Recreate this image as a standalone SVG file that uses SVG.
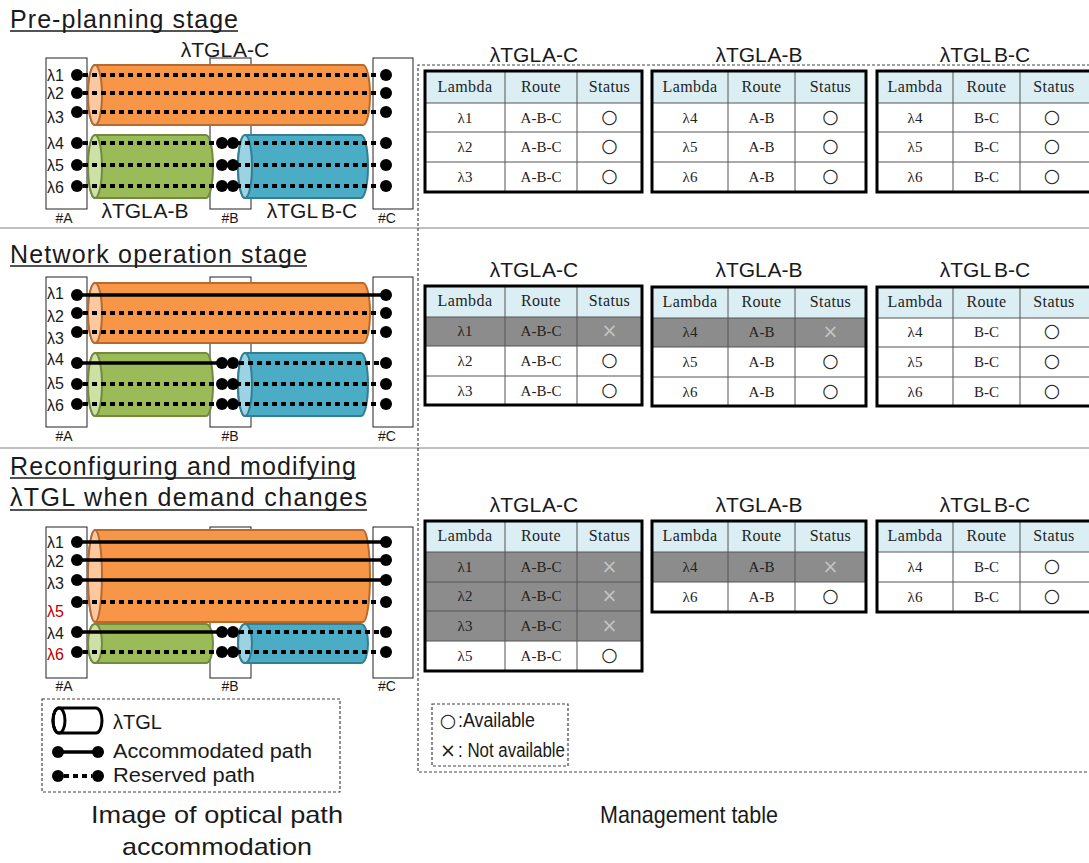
<svg xmlns="http://www.w3.org/2000/svg" width="1089" height="863" viewBox="0 0 1089 863">
<style>
.t{font-family:"Liberation Sans",Arial,sans-serif;fill:#1a1a1a}
.ttl{font-size:25px}
.big{font-size:21px}
.cap{font-size:24px;text-anchor:middle}
.lam{font-size:16px}
.red{fill:#C00000}
.nl{font-size:14px;text-anchor:middle}
.box{fill:#fff;stroke:#222;stroke-width:1}
.dot{fill:#000}
.res{stroke:#000;stroke-width:4;stroke-dasharray:5 4;fill:none}
.acc{stroke:#000;stroke-width:3.5;fill:none}
.or{fill:#F79646;stroke:#B8692E;stroke-width:2}
.orf{fill:#FBC8A0;stroke:#B8692E;stroke-width:2}
.gn{fill:#9BBB59;stroke:#728A3E;stroke-width:2}
.gnf{fill:#CDE0A6;stroke:#728A3E;stroke-width:2}
.bl{fill:#4BACC6;stroke:#327F93;stroke-width:2}
.blf{fill:#9BD3E2;stroke:#327F93;stroke-width:2}
.tb{font-family:"Liberation Serif","Times New Roman",serif;font-size:15px;text-anchor:middle;fill:#222}
.th{font-size:16px;letter-spacing:0.4px}
.sym{font-family:"DejaVu Sans",sans-serif;font-size:19px;text-anchor:middle;fill:#222}
.x{fill:#c4c4c4}
.hd{fill:#DBEEF4}
.gr{fill:#8C8C8C}
.wh{fill:#fff}
.grid{stroke:#555;stroke-width:1;fill:none}
.frame{fill:none;stroke:#000;stroke-width:3}
.sep{stroke:#808080;stroke-width:1.2}
.dash{fill:none;stroke:#444;stroke-width:1.2;stroke-dasharray:3 2}
.ul{stroke:#1a1a1a;stroke-width:1.3}
</style>

<!-- section separators and the dashed frame round the tables -->
<g id="frames">
<line class="sep" x1="0" y1="228" x2="1089" y2="228"/>
<line class="sep" x1="0" y1="448" x2="1089" y2="448"/>
<path class="dash" d="M1095,65 H418 V772 H1095"/>
</g>

<!-- ===== Stage 1 ===== -->
<g id="stage1-title">
<text class="t ttl" x="10" y="28" textLength="228" lengthAdjust="spacing">Pre-planning stage</text>
<line class="ul" x1="10" y1="31" x2="238" y2="31"/>
<text class="t big" x="225" y="57" text-anchor="middle" word-spacing="-3">λTGL A-C</text>
<text class="t big" x="145" y="218" text-anchor="middle" word-spacing="-3">λTGL A-B</text>
<text class="t big" x="312" y="218" text-anchor="middle" word-spacing="-2">λTGL B-C</text>
</g>
<g id="s1-node-A"><rect class="box" x="46" y="58" width="41" height="151"/><text class="t nl" x="64" y="223">#A</text></g>
<g id="s1-node-B"><rect class="box" x="210" y="58" width="41" height="151"/><text class="t nl" x="230" y="223">#B</text></g>
<g id="s1-node-C"><rect class="box" x="373" y="58" width="40" height="151"/><text class="t nl" x="387" y="223">#C</text></g>
<g id="s1-tgl-AC"><path class="or" d="M95,65 H363 A7 30 0 0 1 363,125 H95 A7 30 0 0 1 95,65 Z"/><ellipse class="orf" cx="95" cy="95" rx="7" ry="30"/></g>
<g id="s1-tgl-AB"><path class="gn" d="M95,135 H206 A7 31.5 0 0 1 206,198 H95 A7 31.5 0 0 1 95,135 Z"/><ellipse class="gnf" cx="95" cy="166.5" rx="7" ry="31.5"/></g>
<g id="s1-tgl-BC"><path class="bl" d="M245,135 H361 A7 31.5 0 0 1 361,198 H245 A7 31.5 0 0 1 245,135 Z"/><ellipse class="blf" cx="245" cy="166.5" rx="7" ry="31.5"/></g>
<g id="s1-lambdas" class="t lam">
<text x="47" y="81">λ1</text><text x="47" y="99">λ2</text><text x="47" y="123">λ3</text>
<text x="47" y="149">λ4</text><text x="47" y="171">λ5</text><text x="47" y="193">λ6</text>
</g>
<g id="s1-connectors">
<line class="res" x1="83" y1="75" x2="380" y2="75"/>
<line class="res" x1="83" y1="93" x2="380" y2="93"/>
<line class="res" x1="83" y1="112" x2="380" y2="112"/>
<line class="res" x1="83" y1="143" x2="380" y2="143"/>
<line class="res" x1="83" y1="165" x2="380" y2="165"/>
<line class="res" x1="83" y1="186" x2="380" y2="186"/>
<g class="dot">
<circle cx="77" cy="75" r="6"/><circle cx="77" cy="93" r="6"/><circle cx="77" cy="112" r="6"/>
<circle cx="77" cy="143" r="6"/><circle cx="77" cy="165" r="6"/><circle cx="77" cy="186" r="6"/>
<circle cx="386" cy="75" r="6"/><circle cx="386" cy="93" r="6"/><circle cx="386" cy="112" r="6"/>
<circle cx="386" cy="143" r="6"/><circle cx="386" cy="165" r="6"/><circle cx="386" cy="186" r="6"/>
<circle cx="222" cy="143" r="6"/><circle cx="233" cy="143" r="6"/>
<circle cx="222" cy="165" r="6"/><circle cx="233" cy="165" r="6"/>
<circle cx="222" cy="186" r="6"/><circle cx="233" cy="186" r="6"/>
</g>
</g>

<!-- stage 1 tables -->
<g id="s1-table-AC">
<text class="t big" x="534" y="62" text-anchor="middle" word-spacing="-3">λTGL A-C</text>
<rect class="hd" x="425" y="71" width="217" height="32"/><rect class="wh" x="425" y="103" width="217" height="89"/>
<path class="grid" d="M505,71 V192 M577,71 V192 M425,103 H642 M425,132 H642 M425,162 H642"/>
<rect class="frame" x="425" y="71" width="217" height="121"/>
<g class="tb th"><text x="465" y="92">Lambda</text><text x="541" y="92">Route</text><text x="609.5" y="92">Status</text></g>
<g class="tb"><text x="465" y="123">λ1</text><text x="541" y="123">A-B-C</text><text x="465" y="152">λ2</text><text x="541" y="152">A-B-C</text><text x="465" y="182">λ3</text><text x="541" y="182">A-B-C</text></g>
<g class="sym"><text x="609.5" y="123">○</text><text x="609.5" y="152">○</text><text x="609.5" y="182">○</text></g>
</g>
<g id="s1-table-AB">
<text class="t big" x="759" y="62" text-anchor="middle" word-spacing="-3">λTGL A-B</text>
<rect class="hd" x="652" y="71" width="214" height="32"/><rect class="wh" x="652" y="103" width="214" height="89"/>
<path class="grid" d="M728,71 V192 M795,71 V192 M652,103 H866 M652,132 H866 M652,162 H866"/>
<rect class="frame" x="652" y="71" width="214" height="121"/>
<g class="tb th"><text x="690" y="92">Lambda</text><text x="761.5" y="92">Route</text><text x="830.5" y="92">Status</text></g>
<g class="tb"><text x="690" y="123">λ4</text><text x="761.5" y="123">A-B</text><text x="690" y="152">λ5</text><text x="761.5" y="152">A-B</text><text x="690" y="182">λ6</text><text x="761.5" y="182">A-B</text></g>
<g class="sym"><text x="830.5" y="123">○</text><text x="830.5" y="152">○</text><text x="830.5" y="182">○</text></g>
</g>
<g id="s1-table-BC">
<text class="t big" x="985" y="62" text-anchor="middle" word-spacing="-2">λTGL B-C</text>
<rect class="hd" x="877" y="71" width="218" height="32"/><rect class="wh" x="877" y="103" width="218" height="89"/>
<path class="grid" d="M953,71 V192 M1020,71 V192 M877,103 H1095 M877,132 H1095 M877,162 H1095"/>
<rect class="frame" x="877" y="71" width="218" height="121"/>
<g class="tb th"><text x="915" y="92">Lambda</text><text x="986.5" y="92">Route</text><text x="1054" y="92">Status</text></g>
<g class="tb"><text x="915" y="123">λ4</text><text x="986.5" y="123">B-C</text><text x="915" y="152">λ5</text><text x="986.5" y="152">B-C</text><text x="915" y="182">λ6</text><text x="986.5" y="182">B-C</text></g>
<g class="sym"><text x="1052" y="123">○</text><text x="1052" y="152">○</text><text x="1052" y="182">○</text></g>
</g>

<!-- ===== Stage 2 ===== -->
<g id="stage2-title">
<text class="t ttl" x="10" y="263" textLength="297" lengthAdjust="spacing">Network operation stage</text>
<line class="ul" x1="10" y1="266" x2="307" y2="266"/>
</g>
<g id="s2-node-A"><rect class="box" x="46" y="277" width="41" height="150"/><text class="t nl" x="64" y="441">#A</text></g>
<g id="s2-node-B"><rect class="box" x="210" y="277" width="41" height="150"/><text class="t nl" x="230" y="441">#B</text></g>
<g id="s2-node-C"><rect class="box" x="373" y="277" width="40" height="150"/><text class="t nl" x="387" y="441">#C</text></g>
<g id="s2-tgl-AC"><path class="or" d="M95,283 H363 A7 30 0 0 1 363,343 H95 A7 30 0 0 1 95,283 Z"/><ellipse class="orf" cx="95" cy="313" rx="7" ry="30"/></g>
<g id="s2-tgl-AB"><path class="gn" d="M95,353 H206 A7 31.5 0 0 1 206,416 H95 A7 31.5 0 0 1 95,353 Z"/><ellipse class="gnf" cx="95" cy="384.5" rx="7" ry="31.5"/></g>
<g id="s2-tgl-BC"><path class="bl" d="M245,353 H361 A7 31.5 0 0 1 361,416 H245 A7 31.5 0 0 1 245,353 Z"/><ellipse class="blf" cx="245" cy="384.5" rx="7" ry="31.5"/></g>
<g id="s2-lambdas" class="t lam">
<text x="47" y="299">λ1</text><text x="47" y="322">λ2</text><text x="47" y="344">λ3</text>
<text x="47" y="365">λ4</text><text x="47" y="389">λ5</text><text x="47" y="411">λ6</text>
</g>
<g id="s2-connectors">
<line class="acc" x1="77" y1="295" x2="386" y2="295"/>
<line class="res" x1="83" y1="313" x2="380" y2="313"/>
<line class="res" x1="83" y1="332" x2="380" y2="332"/>
<line class="acc" x1="77" y1="363" x2="222" y2="363"/>
<line class="res" x1="239" y1="363" x2="380" y2="363"/>
<line class="res" x1="83" y1="384" x2="380" y2="384"/>
<line class="res" x1="83" y1="404" x2="380" y2="404"/>
<g class="dot">
<circle cx="77" cy="295" r="6"/><circle cx="77" cy="313" r="6"/><circle cx="77" cy="332" r="6"/>
<circle cx="77" cy="363" r="6"/><circle cx="77" cy="384" r="6"/><circle cx="77" cy="404" r="6"/>
<circle cx="386" cy="295" r="6"/><circle cx="386" cy="313" r="6"/><circle cx="386" cy="332" r="6"/>
<circle cx="386" cy="363" r="6"/><circle cx="386" cy="384" r="6"/><circle cx="386" cy="404" r="6"/>
<circle cx="222" cy="363" r="6"/><circle cx="233" cy="363" r="6"/>
<circle cx="222" cy="384" r="6"/><circle cx="233" cy="384" r="6"/>
<circle cx="222" cy="404" r="6"/><circle cx="233" cy="404" r="6"/>
</g>
</g>

<g id="s2-table-AC">
<text class="t big" x="534" y="277" text-anchor="middle" word-spacing="-3">λTGL A-C</text>
<rect class="hd" x="425" y="286" width="217" height="31"/><rect class="gr" x="425" y="317" width="217" height="29"/><rect class="wh" x="425" y="346" width="217" height="59"/>
<path class="grid" d="M505,286 V405 M577,286 V405 M425,317 H642 M425,346 H642 M425,376 H642"/>
<rect class="frame" x="425" y="286" width="217" height="119"/>
<g class="tb th"><text x="465" y="306">Lambda</text><text x="541" y="306">Route</text><text x="609.5" y="306">Status</text></g>
<g class="tb"><text x="465" y="336">λ1</text><text x="541" y="336">A-B-C</text><text x="465" y="366">λ2</text><text x="541" y="366">A-B-C</text><text x="465" y="396">λ3</text><text x="541" y="396">A-B-C</text></g>
<g class="sym"><text class="x" x="609.5" y="337">×</text><text x="609.5" y="366">○</text><text x="609.5" y="396">○</text></g>
</g>
<g id="s2-table-AB">
<text class="t big" x="759" y="277" text-anchor="middle" word-spacing="-3">λTGL A-B</text>
<rect class="hd" x="652" y="287" width="214" height="31"/><rect class="gr" x="652" y="318" width="214" height="29"/><rect class="wh" x="652" y="347" width="214" height="59"/>
<path class="grid" d="M728,287 V406 M795,287 V406 M652,318 H866 M652,347 H866 M652,377 H866"/>
<rect class="frame" x="652" y="287" width="214" height="119"/>
<g class="tb th"><text x="690" y="307">Lambda</text><text x="761.5" y="307">Route</text><text x="830.5" y="307">Status</text></g>
<g class="tb"><text x="690" y="337">λ4</text><text x="761.5" y="337">A-B</text><text x="690" y="367">λ5</text><text x="761.5" y="367">A-B</text><text x="690" y="397">λ6</text><text x="761.5" y="397">A-B</text></g>
<g class="sym"><text class="x" x="830.5" y="338">×</text><text x="830.5" y="367">○</text><text x="830.5" y="397">○</text></g>
</g>
<g id="s2-table-BC">
<text class="t big" x="985" y="277" text-anchor="middle" word-spacing="-2">λTGL B-C</text>
<rect class="hd" x="877" y="287" width="218" height="31"/><rect class="wh" x="877" y="318" width="218" height="88"/>
<path class="grid" d="M953,287 V406 M1020,287 V406 M877,318 H1095 M877,347 H1095 M877,377 H1095"/>
<rect class="frame" x="877" y="287" width="218" height="119"/>
<g class="tb th"><text x="915" y="307">Lambda</text><text x="986.5" y="307">Route</text><text x="1054" y="307">Status</text></g>
<g class="tb"><text x="915" y="337">λ4</text><text x="986.5" y="337">B-C</text><text x="915" y="367">λ5</text><text x="986.5" y="367">B-C</text><text x="915" y="397">λ6</text><text x="986.5" y="397">B-C</text></g>
<g class="sym"><text x="1052" y="337">○</text><text x="1052" y="367">○</text><text x="1052" y="397">○</text></g>
</g>

<!-- ===== Stage 3 ===== -->
<g id="stage3-title">
<text class="t ttl" x="10" y="475" textLength="346" lengthAdjust="spacing">Reconfiguring and modifying</text>
<line class="ul" x1="10" y1="478" x2="356" y2="478"/>
<text class="t ttl" x="10" y="506" textLength="357" lengthAdjust="spacing">λTGL when demand changes</text>
<line class="ul" x1="10" y1="510" x2="367" y2="510"/>
</g>
<g id="s3-node-A"><rect class="box" x="46" y="527" width="41" height="151"/><text class="t nl" x="64" y="691">#A</text></g>
<g id="s3-node-B"><rect class="box" x="210" y="527" width="41" height="151"/><text class="t nl" x="230" y="691">#B</text></g>
<g id="s3-node-C"><rect class="box" x="373" y="527" width="40" height="151"/><text class="t nl" x="387" y="691">#C</text></g>
<g id="s3-tgl-AC"><path class="or" d="M95,530 H363 A7 46 0 0 1 363,622 H95 A7 46 0 0 1 95,530 Z"/><ellipse class="orf" cx="95" cy="576" rx="7" ry="46"/></g>
<g id="s3-tgl-AB"><path class="gn" d="M95,624 H206 A7 19.5 0 0 1 206,663 H95 A7 19.5 0 0 1 95,624 Z"/><ellipse class="gnf" cx="95" cy="643.5" rx="7" ry="19.5"/></g>
<g id="s3-tgl-BC"><path class="bl" d="M245,624 H361 A7 19.5 0 0 1 361,663 H245 A7 19.5 0 0 1 245,624 Z"/><ellipse class="blf" cx="245" cy="643.5" rx="7" ry="19.5"/></g>
<g id="s3-lambdas" class="t lam">
<text x="47" y="548">λ1</text><text x="47" y="567">λ2</text><text x="47" y="589">λ3</text>
<text x="47" y="617" class="red">λ5</text><text x="47" y="639">λ4</text><text x="47" y="660" class="red">λ6</text>
</g>
<g id="s3-connectors">
<line class="acc" x1="77" y1="542" x2="386" y2="542"/>
<line class="acc" x1="77" y1="560" x2="386" y2="560"/>
<line class="acc" x1="77" y1="580" x2="386" y2="580"/>
<line class="res" x1="83" y1="602" x2="380" y2="602"/>
<line class="acc" x1="77" y1="632" x2="222" y2="632"/>
<line class="res" x1="239" y1="632" x2="380" y2="632"/>
<line class="res" x1="83" y1="652" x2="380" y2="652"/>
<g class="dot">
<circle cx="77" cy="542" r="6"/><circle cx="77" cy="560" r="6"/><circle cx="77" cy="580" r="6"/>
<circle cx="77" cy="602" r="6"/><circle cx="77" cy="632" r="6"/><circle cx="77" cy="652" r="6"/>
<circle cx="386" cy="542" r="6"/><circle cx="386" cy="560" r="6"/><circle cx="386" cy="580" r="6"/>
<circle cx="386" cy="602" r="6"/><circle cx="386" cy="632" r="6"/><circle cx="386" cy="652" r="6"/>
<circle cx="222" cy="632" r="6"/><circle cx="233" cy="632" r="6"/>
<circle cx="222" cy="652" r="6"/><circle cx="233" cy="652" r="6"/>
</g>
</g>

<g id="s3-table-AC">
<text class="t big" x="534" y="512" text-anchor="middle" word-spacing="-3">λTGL A-C</text>
<rect class="hd" x="425" y="521" width="217" height="31"/><rect class="gr" x="425" y="552" width="217" height="89"/><rect class="wh" x="425" y="641" width="217" height="30"/>
<path class="grid" d="M505,521 V671 M577,521 V671 M425,552 H642 M425,582 H642 M425,611 H642 M425,641 H642"/>
<rect class="frame" x="425" y="521" width="217" height="150"/>
<g class="tb th"><text x="465" y="541">Lambda</text><text x="541" y="541">Route</text><text x="609.5" y="541">Status</text></g>
<g class="tb"><text x="465" y="572">λ1</text><text x="541" y="572">A-B-C</text><text x="465" y="601">λ2</text><text x="541" y="601">A-B-C</text><text x="465" y="631">λ3</text><text x="541" y="631">A-B-C</text><text x="465" y="661">λ5</text><text x="541" y="661">A-B-C</text></g>
<g class="sym"><text class="x" x="609.5" y="573">×</text><text class="x" x="609.5" y="602">×</text><text class="x" x="609.5" y="632">×</text><text x="609.5" y="661">○</text></g>
</g>
<g id="s3-table-AB">
<text class="t big" x="759" y="512" text-anchor="middle" word-spacing="-3">λTGL A-B</text>
<rect class="hd" x="652" y="521" width="214" height="31"/><rect class="gr" x="652" y="552" width="214" height="30"/><rect class="wh" x="652" y="582" width="214" height="30"/>
<path class="grid" d="M728,521 V612 M795,521 V612 M652,552 H866 M652,582 H866"/>
<rect class="frame" x="652" y="521" width="214" height="91"/>
<g class="tb th"><text x="690" y="541">Lambda</text><text x="761.5" y="541">Route</text><text x="830.5" y="541">Status</text></g>
<g class="tb"><text x="690" y="572">λ4</text><text x="761.5" y="572">A-B</text><text x="690" y="602">λ6</text><text x="761.5" y="602">A-B</text></g>
<g class="sym"><text class="x" x="830.5" y="573">×</text><text x="830.5" y="602">○</text></g>
</g>
<g id="s3-table-BC">
<text class="t big" x="985" y="512" text-anchor="middle" word-spacing="-2">λTGL B-C</text>
<rect class="hd" x="877" y="521" width="218" height="31"/><rect class="wh" x="877" y="552" width="218" height="60"/>
<path class="grid" d="M953,521 V612 M1020,521 V612 M877,552 H1095 M877,582 H1095"/>
<rect class="frame" x="877" y="521" width="218" height="91"/>
<g class="tb th"><text x="915" y="541">Lambda</text><text x="986.5" y="541">Route</text><text x="1054" y="541">Status</text></g>
<g class="tb"><text x="915" y="572">λ4</text><text x="986.5" y="572">B-C</text><text x="915" y="602">λ6</text><text x="986.5" y="602">B-C</text></g>
<g class="sym"><text x="1052" y="572">○</text><text x="1052" y="602">○</text></g>
</g>

<!-- legends -->
<g id="legend-paths">
<rect class="dash" x="42" y="699" width="298" height="93"/>
<path d="M59,708 H96 A6 12.5 0 0 1 96,733 H59 A6 12.5 0 0 1 59,708 Z" fill="#fff" stroke="#000" stroke-width="3"/>
<ellipse cx="59" cy="720.5" rx="6" ry="12.5" fill="none" stroke="#000" stroke-width="3"/>
<text class="t" x="113" y="729" font-size="20">λTGL</text>
<line class="acc" x1="58" y1="752" x2="98" y2="752"/>
<circle class="dot" cx="58" cy="752" r="6"/><circle class="dot" cx="98" cy="752" r="6"/>
<text class="t" x="113" y="758" font-size="20" textLength="199" lengthAdjust="spacingAndGlyphs">Accommodated path</text>
<line class="res" x1="64" y1="776" x2="92" y2="776" stroke-dasharray="4 4"/>
<circle class="dot" cx="58" cy="776" r="6"/><circle class="dot" cx="98" cy="776" r="6"/>
<text class="t" x="113" y="782" font-size="20" textLength="142" lengthAdjust="spacingAndGlyphs">Reserved path</text>
</g>
<g id="legend-status">
<rect class="dash" x="432" y="704" width="136" height="62"/>
<text class="sym" x="448" y="727" font-size="20">○</text>
<text class="t" x="458" y="727" font-size="20" textLength="77" lengthAdjust="spacingAndGlyphs">:Available</text>
<text class="sym" x="448" y="757" font-size="17" fill="#333">×</text>
<text class="t" x="458" y="757" font-size="20" textLength="107" lengthAdjust="spacingAndGlyphs">: Not available</text>
</g>

<!-- column captions -->
<g id="captions">
<text class="t cap" x="217" y="823" textLength="252" lengthAdjust="spacingAndGlyphs">Image of optical path</text>
<text class="t cap" x="217" y="855" textLength="190" lengthAdjust="spacingAndGlyphs">accommodation</text>
<text class="t cap" x="689" y="823" textLength="178" lengthAdjust="spacingAndGlyphs">Management table</text>
</g>
</svg>
